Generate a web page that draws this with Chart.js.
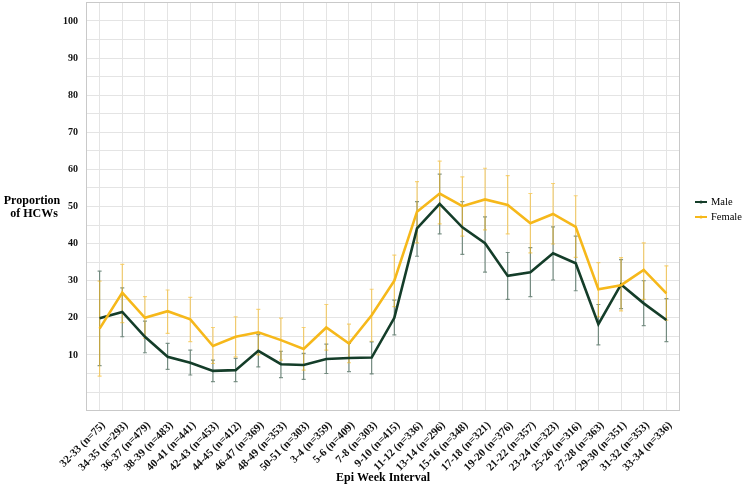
<!DOCTYPE html>
<html><head><meta charset="utf-8">
<script src="https://cdn.jsdelivr.net/npm/chart.js@4.4.1/dist/chart.umd.min.js"></script>
<style>html,body{margin:0;padding:0;background:#fff}#wrap{width:743px;height:488px;position:relative}</style>
</head><body><div id="wrap"><canvas id="c" width="743" height="488"></canvas></div>
<script>
const categories = ["32-33 (n=75)","34-35 (n=293)","36-37 (n=479)","38-39 (n=483)","40-41 (n=441)","42-43 (n=453)","44-45 (n=412)","46-47 (n=369)","48-49 (n=353)","50-51 (n=303)","3-4 (n=359)","5-6 (n=409)","7-8 (n=303)","9-10 (n=415)","11-12 (n=336)","13-14 (n=296)","15-16 (n=348)","17-18 (n=321)","19-20 (n=376)","21-22 (n=357)","23-24 (n=323)","25-26 (n=316)","27-28 (n=363)","29-30 (n=351)","31-32 (n=353)","33-34 (n=336)"];
const maleValues = [19.9,21.6,14.9,9.5,7.9,5.7,5.9,11.1,7.5,7.3,8.9,9.2,9.3,20.0,44.1,50.7,44.4,40.1,31.3,32.3,37.4,34.7,18.3,29.0,23.9,19.4];
const maleLower  = [7.1,14.9,10.6,6.1,4.6,2.8,2.8,6.8,3.9,3.4,5.0,5.5,4.9,15.4,36.6,42.6,37.1,32.3,25.0,25.7,30.2,27.3,12.7,22.5,17.9,13.6];
const maleUpper  = [32.6,28.1,19.1,13.1,11.3,8.6,9.1,15.5,11.0,10.4,12.9,13.1,13.5,24.8,51.3,58.7,51.3,47.2,37.6,38.9,44.5,42.0,23.6,35.7,30.0,25.2];
const femaleValues = [17.1,26.8,20.0,21.8,19.6,12.4,14.9,16.1,14.0,11.6,17.4,13.1,20.7,30.0,48.6,53.5,50.1,51.9,50.4,45.5,48.0,44.5,27.7,28.8,32.9,26.6];
const femaleLower  = [4.3,18.7,14.5,15.8,13.6,7.7,9.5,10.0,8.6,5.9,11.3,7.9,13.7,23.0,40.2,45.3,42.0,43.7,42.6,37.5,39.9,36.3,20.3,21.9,25.0,19.4];
const femaleUpper  = [29.9,34.4,25.7,27.5,25.5,17.4,20.3,22.3,19.9,17.4,23.6,18.3,27.7,36.9,56.7,62.2,58.0,60.3,58.3,53.5,56.2,52.9,34.9,36.2,40.2,34.0];
const yTickLabels = [10,20,30,40,50,60,70,80,90,100];
const yGridValues = [0,5,10,15,20,25,30,35,40,45,50,55,60,65,70,75,80,85,90,95,100];
const seriesNames = ["Male","Female"];
const xTitle = "Epi Week Interval";
const yTitleLines = ["Proportion","of HCWs"];

const MALE = "#143d29", FEMALE = "#f6b81a";
const MALE_BAR = "rgba(22,63,43,0.55)", FEMALE_BAR = "rgba(246,184,26,0.6)";
const SERIF = '"Liberation Serif","Times New Roman",serif';

const series = [
  {name: seriesNames[0], vals: maleValues, lo: maleLower, hi: maleUpper, line: MALE, bar: MALE_BAR},
  {name: seriesNames[1], vals: femaleValues, lo: femaleLower, hi: femaleUpper, line: FEMALE, bar: FEMALE_BAR}
];

const extras = {
  id: 'extras',
  beforeDatasetsDraw(chart) {
    const {ctx, chartArea: a, scales: {x, y}} = chart;
    ctx.save();
    ctx.beginPath(); ctx.rect(a.left, a.top, a.right - a.left, a.bottom - a.top); ctx.clip();
    series.forEach(s => {
      ctx.strokeStyle = s.bar; ctx.lineWidth = 1.2;
      s.vals.forEach((v, i) => {
        const px = x.getPixelForValue(i), yl = y.getPixelForValue(s.lo[i]), yh = y.getPixelForValue(s.hi[i]);
        ctx.beginPath();
        ctx.moveTo(px, yl); ctx.lineTo(px, yh);
        ctx.moveTo(px - 2, yl); ctx.lineTo(px + 2, yl);
        ctx.moveTo(px - 2, yh); ctx.lineTo(px + 2, yh);
        ctx.stroke();
      });
    });
    ctx.restore();
  },
  afterDraw(chart) {
    const {ctx, chartArea: a} = chart;
    ctx.save();
    ctx.strokeStyle = '#c9c9c9'; ctx.lineWidth = 1;
    ctx.strokeRect(a.left + 0.5, a.top + 0.5, a.right - a.left - 1, a.bottom - a.top - 1);
    ctx.fillStyle = '#000';
    ctx.font = 'bold 12px ' + SERIF;
    ctx.textAlign = 'center'; ctx.textBaseline = 'middle';
    ctx.fillText(xTitle, (a.left + a.right) / 2, 478);
    ctx.fillText(yTitleLines[0], 32, 201);
    ctx.fillText(yTitleLines[1], 34, 214);
    // legend
    ctx.font = '10.5px ' + SERIF; ctx.textAlign = 'left';
    series.forEach((s, k) => {
      const ly = 202 + k * 15;
      ctx.strokeStyle = s.line; ctx.lineWidth = 2;
      ctx.beginPath(); ctx.moveTo(695, ly); ctx.lineTo(707, ly); ctx.stroke();
      ctx.fillStyle = s.line;
      ctx.beginPath(); ctx.arc(701, ly, 1.6, 0, Math.PI * 2); ctx.fill();
      ctx.fillStyle = '#000';
      ctx.fillText(s.name, 711, ly);
    });
    ctx.restore();
  }
};

new Chart(document.getElementById('c'), {
  type: 'line',
  data: {
    datasets: [series[1], series[0]].map(s => ({
      label: s.name,
      data: s.vals.map((v, i) => ({x: i, y: v})),
      borderColor: s.line, backgroundColor: s.line,
      borderWidth: 2.6, pointRadius: 0, tension: 0, fill: false
    }))
  },
  options: {
    responsive: false, animation: false, devicePixelRatio: 1,
    layout: {padding: {top: 2, right: 63, left: 0, bottom: 0}},
    plugins: {legend: {display: false}, tooltip: {enabled: false}},
    scales: {
      x: {
        type: 'linear', min: -0.6, max: 25.6,
        afterBuildTicks: sc => { sc.ticks = categories.map((c, i) => ({value: i})); },
        afterFit: sc => { sc.height = 77; sc.paddingLeft = 0; sc.paddingRight = 0; },
        grid: {color: '#e4e4e4', lineWidth: 1, drawTicks: false},
        border: {display: false},
        ticks: {
          autoSkip: false, minRotation: 45, maxRotation: 45, padding: 8, labelOffset: 4,
          color: '#111', font: {family: SERIF, size: 11, weight: 'bold'},
          callback: v => categories[v]
        }
      },
      y: {
        type: 'linear', min: -5.1, max: 105.1,
        afterBuildTicks: sc => { sc.ticks = yGridValues.map(v => ({value: v})); },
        afterFit: sc => { sc.width = 86; sc.paddingTop = 0; sc.paddingBottom = 0; },
        grid: {color: '#e4e4e4', lineWidth: 1, drawTicks: false},
        border: {display: false},
        ticks: {
          padding: 8, color: '#111', font: {family: SERIF, size: 10, weight: 'bold'},
          callback: v => yTickLabels.includes(v) ? String(v) : ''
        }
      }
    }
  },
  plugins: [extras]
});
</script></body></html>
